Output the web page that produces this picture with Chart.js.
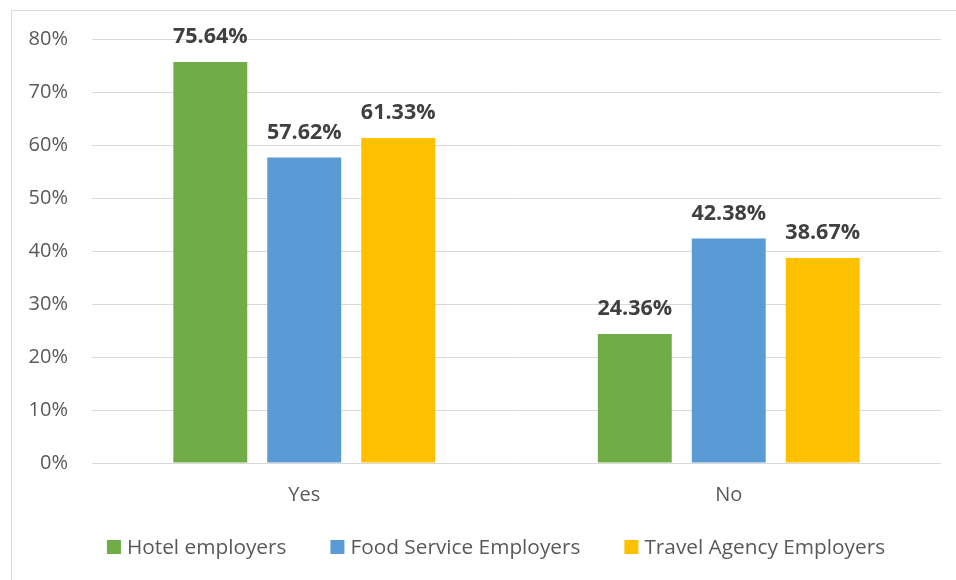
<!DOCTYPE html>
<html>
<head>
<meta charset="utf-8">
<script src="https://cdn.jsdelivr.net/npm/chart.js@4"></script>
<style>
  body { margin: 0; background: #fff; }
  #wrap { position: relative; width: 956px; height: 580px; overflow: hidden; }
  #frame { position: absolute; left: 11px; top: 10px; width: 960px; height: 600px; border: 1px solid #d9d9d9; box-sizing: border-box; }
  #myChart { position: absolute; left: 0; top: 0; }
</style>
</head>
<body>
<div id="wrap">
  <div id="frame"></div>
  <canvas id="myChart" width="956" height="580"></canvas>
</div>
<script>
const categories = ['Yes', 'No'];
const seriesNames = ['Hotel employers', 'Food Service Employers', 'Travel Agency Employers'];
const hotelValues = [75.64, 24.36];
const foodValues = [57.62, 42.38];
const travelValues = [61.33, 38.67];
const yTicks = [0, 10, 20, 30, 40, 50, 60, 70, 80];

const colors = ['#70AD47', '#5B9BD5', '#FFC000'];
const fontFamily = "'Open Sans', 'Noto Sans', sans-serif";

// bold value over each bar
const valueLabels = {
    id: 'valueLabels',
    afterDatasetsDraw(chart) {
        const ctx = chart.ctx;
        ctx.save();
        ctx.font = 'bold 21.5px ' + fontFamily;
        ctx.fillStyle = '#404040';
        ctx.textAlign = 'center';
        ctx.textBaseline = 'middle';
        chart.data.datasets.forEach((ds, i) => {
            chart.getDatasetMeta(i).data.forEach((bar, j) => {
                ctx.fillText(ds.data[j].toFixed(2) + '%', bar.x, bar.y - 25);
            });
        });
        ctx.restore();
    }
};

// legend drawn by hand so the spacing matches the excel look
const bottomLegend = {
    id: 'bottomLegend',
    afterDraw(chart) {
        const ctx = chart.ctx;
        const box = 14, gap = 6, spacing = 44;
        ctx.save();
        ctx.font = '20.8px ' + fontFamily;
        ctx.textBaseline = 'middle';
        const items = chart.data.datasets.map(ds => ({
            text: ds.label,
            color: ds.backgroundColor,
            w: box + gap + ctx.measureText(ds.label).width
        }));
        const total = items.reduce((s, it) => s + it.w, 0) + spacing * (items.length - 1);
        let x = chart.width / 2 + 18 - total / 2;
        const y = chart.height - 33;
        items.forEach(it => {
            ctx.fillStyle = it.color;
            ctx.fillRect(x, y - box / 2, box, box);
            ctx.fillStyle = '#595959';
            ctx.fillText(it.text, x + box + gap, y + 1);
            x += it.w + spacing;
        });
        ctx.restore();
    }
};

new Chart(document.getElementById('myChart'), {
    type: 'bar',
    data: {
        labels: categories,
        datasets: [
            { label: seriesNames[0], data: hotelValues, backgroundColor: colors[0] },
            { label: seriesNames[1], data: foodValues, backgroundColor: colors[1] },
            { label: seriesNames[2], data: travelValues, backgroundColor: colors[2] }
        ]
    },
    options: {
        responsive: false,
        animation: false,
        categoryPercentage: 0.664,
        barPercentage: 0.787,
        layout: { padding: { left: 0, top: 39, right: 15, bottom: 53 } },
        plugins: {
            tooltip: { enabled: false },
            legend: { display: false }
        },
        scales: {
            x: {
                grid: { display: false, drawTicks: false },
                border: { display: false },
                ticks: { color: '#595959', padding: 20, font: { family: fontFamily, size: 20 } }
            },
            y: {
                min: 0,
                max: 80,
                afterBuildTicks(axis) { axis.ticks = yTicks.map(v => ({ value: v })); },
                afterFit(axis) { axis.width = 92; },
                grid: { color: '#d9d9d9', lineWidth: 1, drawTicks: false },
                border: { display: false },
                ticks: {
                    color: '#595959',
                    padding: 24,
                    font: { family: fontFamily, size: 20 },
                    callback: v => v + '%'
                }
            }
        }
    },
    plugins: [valueLabels, bottomLegend]
});
</script>
</body>
</html>
